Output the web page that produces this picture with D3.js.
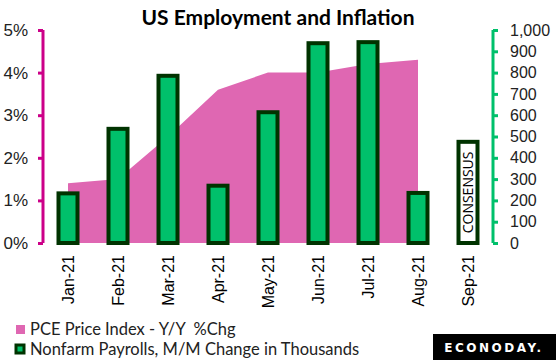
<!DOCTYPE html>
<html>
<head>
<meta charset="utf-8">
<script src="https://cdn.jsdelivr.net/npm/d3@7"></script>
<style>
  body { margin: 0; background: #fff; }
  svg { font-family: Lato, "Open Sans", sans-serif; }
</style>
</head>
<body>
<div id="chart"></div>
<script>
// chart data
const months = ['Jan-21', 'Feb-21', 'Mar-21', 'Apr-21', 'May-21', 'Jun-21', 'Jul-21', 'Aug-21', 'Sep-21'];
const pceValues = [1.4, 1.5, 2.5, 3.6, 4.0, 4.0, 4.2, 4.3];
const payrolls = [233, 536, 785, 269, 614, 938, 943, 235];
const consensus = 475;
const pctTicks = [0, 1, 2, 3, 4, 5];
const kTicks = [0, 100, 200, 300, 400, 500, 600, 700, 800, 900, 1000];

const width = 556, height = 360;
const margin = { top: 30, right: 63, bottom: 117, left: 43 };
const innerW = width - margin.left - margin.right;
const innerH = height - margin.top - margin.bottom;

const pink = '#df67b2', magenta = '#cc0088', green = '#00c06b', dark = '#003300';

const svg = d3.select('#chart').append('svg')
  .attr('width', width)
  .attr('height', height);

const g = svg.append('g')
  .attr('transform', `translate(${margin.left},${margin.top})`);

const x = d3.scaleBand().domain(months).range([0, innerW]);
const yPct = d3.scaleLinear().domain([0, 5]).range([innerH, 0]);
const yK = d3.scaleLinear().domain([0, 1000]).range([innerH, 0]);
const cx = d => x(d) + x.bandwidth() / 2;

// PCE area
const area = d3.area()
  .x((d, i) => cx(months[i]))
  .y0(yPct(0))
  .y1(d => yPct(d));

g.append('path')
  .datum(pceValues)
  .attr('d', area)
  .attr('fill', pink);

// payroll bars
const barW = 19;
g.selectAll('.bar')
  .data(payrolls)
  .enter()
  .append('rect')
  .attr('class', 'bar')
  .attr('x', (d, i) => cx(months[i]) - barW / 2)
  .attr('y', d => yK(d))
  .attr('width', barW)
  .attr('height', d => yK(0) - yK(d))
  .attr('fill', green)
  .attr('stroke', dark)
  .attr('stroke-width', 4);

// consensus box
const cX = cx(months[8]);
g.append('rect')
  .attr('x', cX - barW / 2)
  .attr('y', yK(consensus))
  .attr('width', barW)
  .attr('height', yK(0) - yK(consensus))
  .attr('fill', '#fff')
  .attr('stroke', dark)
  .attr('stroke-width', 4);

g.append('text')
  .attr('transform', `translate(${cX + 5},${(yK(0) + yK(consensus)) / 2}) rotate(-90)`)
  .attr('text-anchor', 'middle')
  .style('font-size', '14px')
  .style('font-family', '"Open Sans", sans-serif')
  .attr('fill', '#000')
  .text('CONSENSUS');

// left axis
const leftAxis = g.append('g')
  .call(d3.axisLeft(yPct).tickValues(pctTicks).tickFormat(d => d + '%').tickSize(5).tickPadding(10));
leftAxis.select('.domain').attr('stroke', magenta).attr('stroke-width', 3).attr('d', `M0,${innerH}V0`);
leftAxis.selectAll('.tick line').attr('stroke', magenta).attr('stroke-width', 3);
leftAxis.selectAll('.tick text').style('font-size', '17px').attr('fill', '#222');

// right axis
const rightAxis = g.append('g')
  .attr('transform', `translate(${innerW},0)`)
  .call(d3.axisRight(yK).tickValues(kTicks).tickFormat(d3.format(',')).tickSize(5).tickPadding(12));
rightAxis.select('.domain').attr('stroke', green).attr('stroke-width', 3).attr('d', `M0,${innerH}V0`);
rightAxis.selectAll('.tick line').attr('stroke', green).attr('stroke-width', 3);
rightAxis.selectAll('.tick text').style('font-size', '16px').attr('fill', '#222');

// month labels
const xAxis = g.append('g')
  .attr('transform', `translate(0,${innerH})`)
  .call(d3.axisBottom(x).tickSize(0).tickPadding(0));
xAxis.select('.domain').remove();
xAxis.selectAll('.tick text')
  .style('font-size', '16px')
  .attr('fill', '#000')
  .attr('transform', 'rotate(-90)')
  .attr('text-anchor', 'end')
  .attr('x', -12)
  .attr('y', 0)
  .attr('dy', '0.35em');

// title
svg.append('text')
  .attr('x', 278)
  .attr('y', 25)
  .attr('text-anchor', 'middle')
  .style('font-size', '21px')
  .style('font-weight', 'bold')
  .text('US Employment and Inflation');

// legend
const legend = svg.append('g').style('font-size', '16.5px');
legend.append('rect').attr('x', 16).attr('y', 325).attr('width', 9).attr('height', 9).attr('fill', pink);
legend.append('text').attr('x', 30).attr('y', 335).attr('fill', '#222').text('PCE Price Index - Y/Y  %Chg').attr('xml:space', 'preserve');
legend.append('rect').attr('x', 16).attr('y', 345).attr('width', 8).attr('height', 8)
  .attr('fill', green).attr('stroke', dark).attr('stroke-width', 3);
legend.append('text').attr('x', 30).attr('y', 355).attr('fill', '#222').text('Nonfarm Payrolls, M/M Change in Thousands');

// logo
svg.append('rect').attr('x', 433).attr('y', 334).attr('width', 123).attr('height', 26).attr('fill', '#000');
svg.append('text')
  .attr('x', 494)
  .attr('y', 352)
  .attr('text-anchor', 'middle')
  .attr('fill', '#fff')
  .style('font-family', '"DejaVu Sans", sans-serif')
  .style('font-size', '12px')
  .style('font-weight', 'bold')
  .style('letter-spacing', '2.5px')
  .text('ECONODAY.');
</script>
</body>
</html>
